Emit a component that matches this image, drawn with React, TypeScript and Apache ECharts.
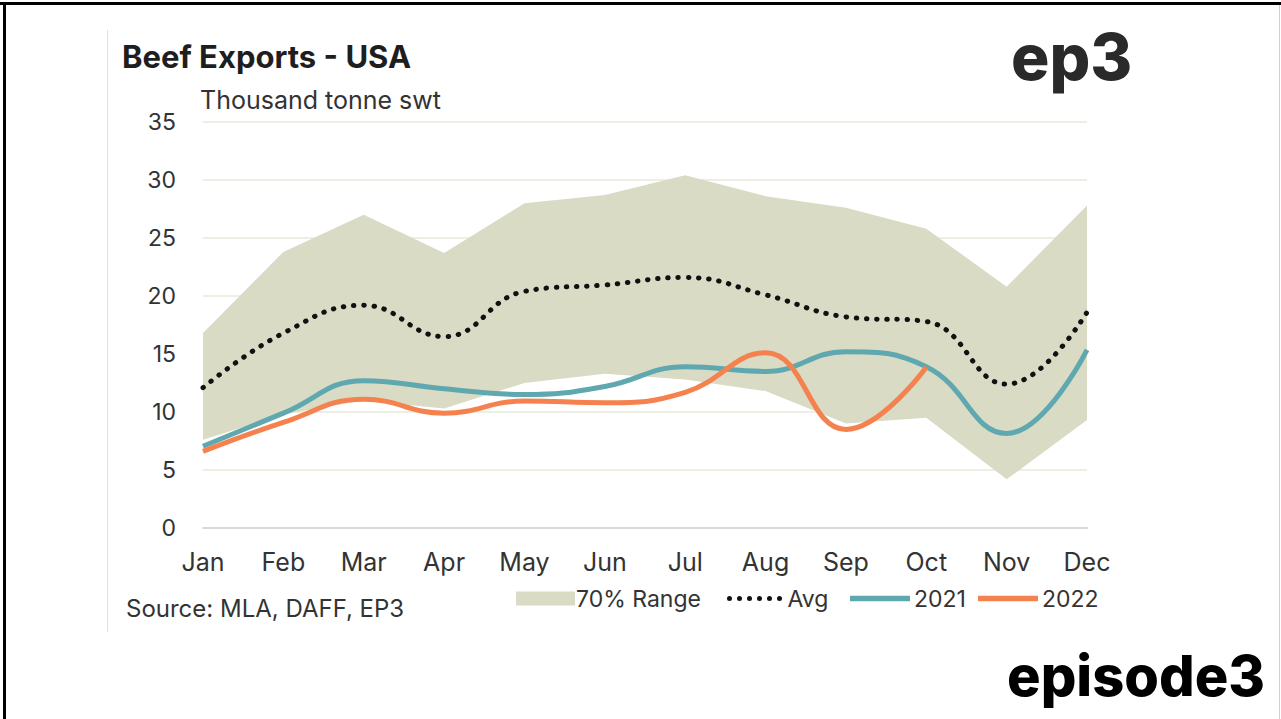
import React, { useEffect, useRef } from "react";
import * as echarts from "echarts";

const months = ["Jan", "Feb", "Mar", "Apr", "May", "Jun", "Jul", "Aug", "Sep", "Oct", "Nov", "Dec"];
const rangeLow = [7.6, 9.8, 11.0, 10.3, 12.5, 13.3, 12.8, 11.8, 9.0, 9.5, 4.2, 9.3];
const rangeHigh = [16.8, 23.8, 27.0, 23.7, 28.0, 28.7, 30.4, 28.6, 27.6, 25.8, 20.8, 27.8];
const avg = [12.1, 16.8, 19.2, 16.5, 20.4, 20.95, 21.6, 20.1, 18.2, 17.8, 12.4, 18.6];
const y2021 = [7.05, 9.9, 12.7, 12.0, 11.5, 12.2, 13.9, 13.5, 15.2, 13.9, 8.15, 15.35];
const y2022 = [6.6, 9.1, 11.1, 9.9, 10.95, 10.8, 11.7, 15.1, 8.5, 13.85];
const yTicks = [0, 5, 10, 15, 20, 25, 30, 35];

const FONT = "Inter, 'Noto Sans', sans-serif";

const dot = (cx: number) =>
  `M${cx - 2.5},2.5 A2.5,2.5 0 1 0 ${cx + 2.5},2.5 A2.5,2.5 0 1 0 ${cx - 2.5},2.5 Z`;
const dotsIcon = "path://" + [2.5, 12.5, 22.5, 32.5, 42.5, 52.5].map(dot).join(" ");
const barIcon = "path://M0,0 H60 V5.5 H0 Z";

export default function App() {
  const ref = useRef<HTMLDivElement>(null);
  useEffect(() => {
    document.body.style.margin = "0";
    const chart = echarts.init(ref.current!, undefined, { renderer: "svg" });
    const bandDiff = rangeHigh.map((h, i) => +(h - rangeLow[i]).toFixed(2));
    const legendBase = {
      top: 582,
      itemGap: 0,
      itemWidth: 60,
      itemHeight: 14,
      textStyle: { color: "#333", fontSize: 23, fontFamily: FONT, padding: [0, 0, 0, -1] },
    };
    chart.setOption({
      animation: false,
      backgroundColor: "#ffffff",
      textStyle: { fontFamily: FONT },
      grid: { left: 203, right: 194, top: 122, bottom: 191 },
      xAxis: {
        type: "category",
        data: months,
        boundaryGap: false,
        axisLine: { show: true, lineStyle: { color: "#d9d9d9", width: 2 } },
        axisTick: { show: false },
        axisLabel: { color: "#333", fontSize: 25, margin: 21, fontFamily: FONT },
        splitLine: { show: false },
      },
      yAxis: {
        type: "value",
        min: yTicks[0],
        max: yTicks[yTicks.length - 1],
        interval: 5,
        axisLine: { show: false },
        axisTick: { show: false },
        axisLabel: { color: "#333", fontSize: 23, margin: 27, fontFamily: FONT },
        splitLine: { lineStyle: { color: "#eeefe4", width: 2 } },
      },
      legend: [
        {
          ...legendBase, left: 511, itemWidth: 59,
          textStyle: { ...legendBase.textStyle, padding: [0, 0, 0, -4] },
          data: [{ name: "70% Range", icon: "rect", itemStyle: { color: "#d9dbc4" } }],
        },
        { ...legendBase, left: 722, itemWidth: 58, itemHeight: 5, data: [{ name: "Avg", icon: dotsIcon }] },
        { ...legendBase, left: 845, itemHeight: 6, data: [{ name: "2021", icon: barIcon }] },
        { ...legendBase, left: 973, itemHeight: 6, data: [{ name: "2022", icon: barIcon }] },
      ],
      graphic: [
        { type: "rect", shape: { x: 0, y: 2, width: 1281, height: 3 }, style: { fill: "#000" } },
        { type: "rect", shape: { x: 3, y: 2, width: 3, height: 717 }, style: { fill: "#000" } },
        { type: "rect", shape: { x: 1279, y: 5, width: 1, height: 714 }, style: { fill: "#d0d0d0" } },
        { type: "rect", shape: { x: 107, y: 30, width: 1, height: 602 }, style: { fill: "#e0e0e0" } },
        {
          type: "text", left: 122, top: 41,
          style: { text: "Beef Exports - USA", fill: "#1e1e1e", font: `bold 31px ${FONT}` },
        },
        {
          type: "text", left: 200, top: 87,
          style: { text: "Thousand tonne swt", fill: "#333", font: `25px ${FONT}` },
        },
        {
          type: "text", left: 126, top: 596,
          style: { text: "Source: MLA, DAFF, EP3", fill: "#333", font: `24px ${FONT}` },
        },
        {
          type: "text", left: 1011, top: 24,
          style: { text: "ep3", fill: "#2a2a2a", font: `800 64px ${FONT}` },
        },
        {
          type: "text", left: 1007, top: 648,
          style: { text: "episode3", fill: "#000", font: `800 56px ${FONT}` },
        },
      ],
      series: [
        {
          name: "bandLow",
          type: "line",
          stack: "band",
          data: rangeLow,
          symbol: "none",
          lineStyle: { opacity: 0 },
          silent: true,
        },
        {
          name: "70% Range",
          type: "line",
          stack: "band",
          data: bandDiff,
          symbol: "none",
          lineStyle: { opacity: 0 },
          itemStyle: { color: "#d9dbc4" },
          areaStyle: { color: "#d9dbc4", opacity: 1 },
          silent: true,
        },
        {
          name: "Avg",
          type: "line",
          data: avg,
          smooth: 0.45,
          symbol: "none",
          itemStyle: { color: "#111" },
          lineStyle: { color: "#111", width: 5, type: [0.5, 9.7], cap: "round" },
          z: 5,
        },
        {
          name: "2021",
          type: "line",
          data: y2021,
          smooth: 0.45,
          symbol: "none",
          itemStyle: { color: "#5fa8b0" },
          lineStyle: { color: "#5fa8b0", width: 5 },
          z: 6,
        },
        {
          name: "2022",
          type: "line",
          data: y2022,
          smooth: 0.45,
          symbol: "none",
          itemStyle: { color: "#f5824e" },
          lineStyle: { color: "#f5824e", width: 5 },
          z: 7,
        },
      ],
    });
    return () => chart.dispose();
  }, []);
  return <div ref={ref} style={{ position: "fixed", left: 0, top: 0, width: 1281, height: 719 }} />;
}
